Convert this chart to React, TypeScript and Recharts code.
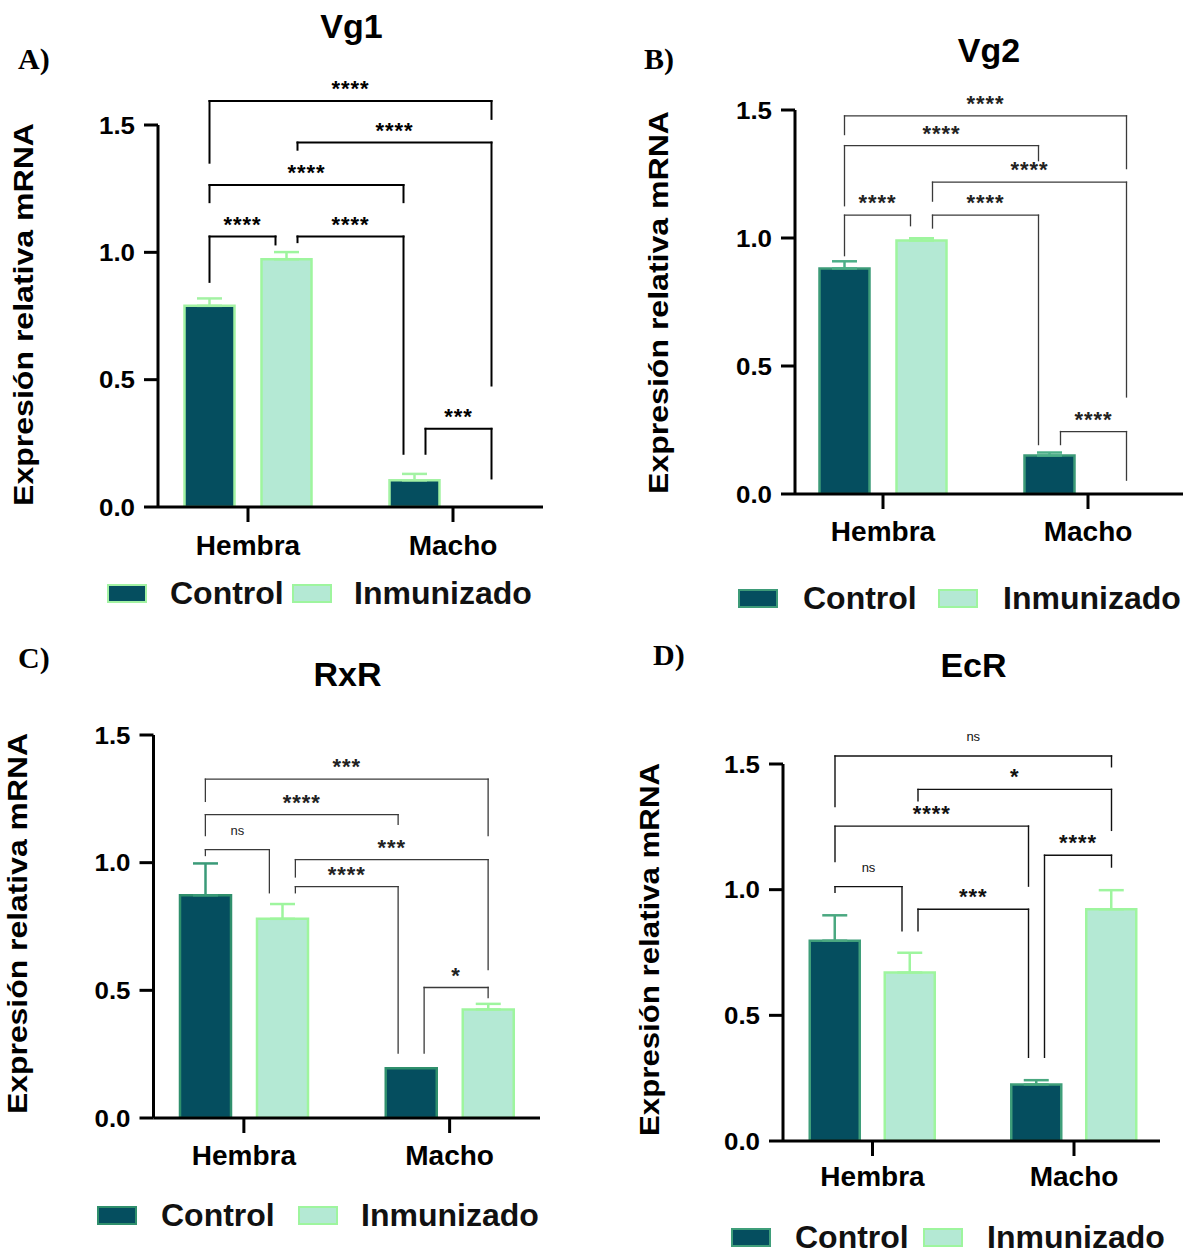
import React from "react";
import {
  BarChart,
  Bar,
  XAxis,
  YAxis,
  ErrorBar,
  ReferenceLine,
  ReferenceDot,
  Legend,
} from "recharts";

const SANS = '"Liberation Sans", Arial, Helvetica, sans-serif';
const SERIF = '"Liberation Serif", "Times New Roman", serif';

const CATEGORIES = ["Hembra", "Macho"];
const SERIES = ["Control", "Inmunizado"];
const Y_TICKS = [0, 0.5, 1.0, 1.5];

// [from bar, to bar, level, leg end at "from", leg end at "to", label]
// bars: 0 Hembra-Control, 1 Hembra-Inmunizado, 2 Macho-Control, 3 Macho-Inmunizado
type Bracket = [number, number, number, number, number, string];

// Vg1
const VG1_CONTROL = [0.79, 0.105];
const VG1_CONTROL_SEM = [0.029, 0.025];
const VG1_INMUNIZADO = [0.973, 0];
const VG1_INMUNIZADO_SEM = [0.028, null];
const VG1_BRACKETS: Bracket[] = [
  [0, 3, 1.594, 1.352, 1.524, "****"],
  [1, 3, 1.431, 1.403, 0.477, "****"],
  [0, 2, 1.264, 1.197, 1.197, "****"],
  [0, 1, 1.062, 0.884, 1.031, "****"],
  [1, 2, 1.062, 1.04, 0.209, "****"],
  [2, 3, 0.307, 0.209, 0.112, "***"],
];

// Vg2
const VG2_CONTROL = [0.881, 0.15];
const VG2_CONTROL_SEM = [0.028, 0.012];
const VG2_INMUNIZADO = [0.99, 0];
const VG2_INMUNIZADO_SEM = [0.009, null];
const VG2_BRACKETS: Bracket[] = [
  [0, 3, 1.477, 1.404, 1.271, "****"],
  [0, 2, 1.361, 1.126, 1.302, "****"],
  [1, 3, 1.218, 1.144, 0.379, "****"],
  [0, 1, 1.089, 0.931, 1.048, "****"],
  [1, 2, 1.089, 1.039, 0.193, "****"],
  [2, 3, 0.244, 0.193, 0.054, "****"],
];

// RxR
const RXR_CONTROL = [0.872, 0.195];
const RXR_CONTROL_SEM = [0.125, null];
const RXR_INMUNIZADO = [0.78, 0.425];
const RXR_INMUNIZADO_SEM = [0.058, 0.022];
const RXR_BRACKETS: Bracket[] = [
  [0, 3, 1.327, 1.24, 1.106, "***"],
  [0, 2, 1.188, 1.106, 1.15, "****"],
  [0, 1, 1.051, 1.028, 0.882, "ns"],
  [1, 3, 1.012, 0.944, 0.581, "***"],
  [1, 2, 0.906, 0.882, 0.254, "****"],
  [2, 3, 0.511, 0.254, 0.472, "*"],
];

// EcR
const ECR_CONTROL = [0.797, 0.225];
const ECR_CONTROL_SEM = [0.101, 0.017];
const ECR_INMUNIZADO = [0.67, 0.922];
const ECR_INMUNIZADO_SEM = [0.079, 0.076];
const ECR_BRACKETS: Bracket[] = [
  [0, 3, 1.532, 1.331, 1.489, "ns"],
  [1, 3, 1.399, 1.354, 1.236, "*"],
  [0, 2, 1.253, 1.112, 1.014, "****"],
  [2, 3, 1.137, 0.333, 1.09, "****"],
  [0, 1, 1.012, 0.99, 0.836, "ns"],
  [1, 2, 0.922, 0.836, 0.333, "***"],
];

const CONTROL_FILL = "#054e5f";
const INM_FILL = "#b4e9d4";
const INM_STROKE = "#9ef59e";
const Y_AXIS_W = 60;
const X_AXIS_H = 30;

const PANELS = [
  {
    title: "Vg1", letter: "A)",
    control: VG1_CONTROL, controlSem: VG1_CONTROL_SEM,
    inm: VG1_INMUNIZADO, inmSem: VG1_INMUNIZADO_SEM, brackets: VG1_BRACKETS,
    box: { left: 0, top: 0, w: 596, h: 626 },
    plot: { left: 158, right: 543, top: 125, bottom: 507 },
    padL: -12.5, padR: -12.5, barSize: 50, barGap: 27, shift: 11, xTickMargin: 13,
    ctrlStroke: "#a3f2a3", ctrlErr: "#a3f2a3",
    bracketStroke: "#000", bracketWidth: 2, labelFill: "#000",
    legendY: 593, legendX: [107, 170, 292, 354],
    titlePos: [351.5, 38], letterPos: [18, 69], yLabel: [33, 314.5, 383],
  },
  {
    title: "Vg2", letter: "B)",
    control: VG2_CONTROL, controlSem: VG2_CONTROL_SEM,
    inm: VG2_INMUNIZADO, inmSem: VG2_INMUNIZADO_SEM, brackets: VG2_BRACKETS,
    box: { left: 596, top: 0, w: 596, h: 626 },
    plot: { left: 795, right: 1183, top: 110, bottom: 494 },
    padL: -14.5, padR: -7.5, barSize: 50, barGap: 27, shift: 11, xTickMargin: 12,
    ctrlStroke: "#3d9b78", ctrlErr: "#4caf88",
    bracketStroke: "#3a3a3a", bracketWidth: 1.3, labelFill: "#222",
    legendY: 598, legendX: [738, 803, 938, 1003],
    titlePos: [989, 61.5], letterPos: [644, 69], yLabel: [668, 302.5, 383],
  },
  {
    title: "RxR", letter: "C)",
    control: RXR_CONTROL, controlSem: RXR_CONTROL_SEM,
    inm: RXR_INMUNIZADO, inmSem: RXR_INMUNIZADO_SEM, brackets: RXR_BRACKETS,
    box: { left: 0, top: 626, w: 596, h: 627 },
    plot: { left: 153.5, right: 540, top: 735, bottom: 1118 },
    padL: -12.5, padR: -12.5, barSize: 51, barGap: 26, shift: 13, xTickMargin: 12,
    ctrlStroke: "#2f8f6c", ctrlErr: "#3a9a78",
    bracketStroke: "#3a3a3a", bracketWidth: 1.3, labelFill: "#222",
    legendY: 1215, legendX: [97, 161, 298, 361],
    titlePos: [347.5, 685.5], letterPos: [18, 668], yLabel: [27, 923.5, 381],
  },
  {
    title: "EcR", letter: "D)",
    control: ECR_CONTROL, controlSem: ECR_CONTROL_SEM,
    inm: ECR_INMUNIZADO, inmSem: ECR_INMUNIZADO_SEM, brackets: ECR_BRACKETS,
    box: { left: 596, top: 626, w: 596, h: 627 },
    plot: { left: 783, right: 1160, top: 764, bottom: 1141 },
    padL: -11.25, padR: -14.75, barSize: 50, barGap: 25, shift: 8, xTickMargin: 10,
    ctrlStroke: "#3f9e7a", ctrlErr: "#4aa880",
    bracketStroke: "#111", bracketWidth: 1.4, labelFill: "#111",
    legendY: 1237, legendX: [731, 795, 923, 987],
    titlePos: [973.5, 677], letterPos: [653, 664.5], yLabel: [659, 949.5, 373],
  },
];

type PanelCfg = (typeof PANELS)[number];

const YTick = (props: any) => {
  const { x, y, payload } = props;
  return (
    <text
      x={x}
      y={y}
      dy="0.36em"
      textAnchor="end"
      fontSize={24}
      fontWeight={700}
      fontFamily={SANS}
      fill="#000"
      textLength={36}
      lengthAdjust="spacingAndGlyphs"
    >
      {Number(payload.value).toFixed(1)}
    </text>
  );
};

function Panel({ cfg }: { cfg: PanelCfg }) {
  const { box, plot } = cfg;
  const data = CATEGORIES.map((name, i) => ({
    name,
    control: cfg.control[i],
    inmunizado: cfg.inm[i],
    controlErr: cfg.controlSem[i] == null ? null : [0, cfg.controlSem[i]],
    inmErr: cfg.inmSem[i] == null ? null : [0, cfg.inmSem[i]],
  }));
  const margin = {
    top: plot.top - box.top,
    left: plot.left - box.left - Y_AXIS_W,
    right: box.left + box.w - plot.right,
    bottom: box.top + box.h - plot.bottom - X_AXIS_H,
  };
  const pad = { left: cfg.padL, right: cfg.padR };
  const nCat = CATEGORIES.length;
  const band = (plot.right - plot.left - cfg.padL - cfg.padR) / nCat;

  // bars that have brackets arriving from both sides get their legs split apart
  const asFrom = new Set(cfg.brackets.map((b) => b[0]));
  const asTo = new Set(cfg.brackets.map((b) => b[1]));
  // position on a hidden 0..1 axis spanning the same range as the category axis
  const barX = (bar: number, dir: number) => {
    const c = Math.floor(bar / 2);
    const side = bar % 2 === 0 ? -1 : 1;
    const split = asFrom.has(bar) && asTo.has(bar) ? dir * cfg.shift : 0;
    const px = (side * (cfg.barSize + cfg.barGap)) / 2 + split;
    return (c + 0.5 + px / band) / nCat;
  };

  const line = { stroke: cfg.bracketStroke, strokeWidth: cfg.bracketWidth, strokeLinecap: "square" as const };

  const bracketEls = cfg.brackets.flatMap(([a, b, level, endA, endB, label], i) => {
    const xa = barX(a, 1);
    const xb = barX(b, -1);
    const stars = label !== "ns";
    return [
      <ReferenceLine key={`h${i}`} xAxisId="n" ifOverflow="visible" {...line}
        segment={[{ x: xa, y: level }, { x: xb, y: level }]} />,
      <ReferenceLine key={`l${i}`} xAxisId="n" ifOverflow="visible" {...line}
        segment={[{ x: xa, y: level }, { x: xa, y: endA }]} />,
      <ReferenceLine key={`r${i}`} xAxisId="n" ifOverflow="visible" {...line}
        segment={[{ x: xb, y: level }, { x: xb, y: endB }]} />,
      <ReferenceDot key={`t${i}`} xAxisId="n" ifOverflow="visible" r={0}
        x={(xa + xb) / 2} y={level}
        shape={(p: any) => (
          <text
            x={p.cx}
            y={p.cy - (stars ? 5 : 15)}
            textAnchor="middle"
            fontFamily={SANS}
            fontSize={stars ? 22 : 13}
            fontWeight={stars ? 700 : 400}
            letterSpacing={stars ? 1 : 0}
            fill={cfg.labelFill}
          >
            {label}
          </text>
        )}
      />,
    ];
  });

  const legendTop = cfg.legendY - box.top - 20;
  const renderLegend = () => (
    <div style={{ position: "relative", width: box.w, height: 40 }}>
      {SERIES.map((s, i) => (
        <React.Fragment key={s}>
          <div
            style={{
              position: "absolute",
              left: cfg.legendX[i * 2] - box.left,
              top: 10.5,
              width: 40,
              height: 19,
              boxSizing: "border-box",
              background: i === 0 ? CONTROL_FILL : INM_FILL,
              border: `2.5px solid ${i === 0 ? cfg.ctrlStroke : INM_STROKE}`,
            }}
          />
          <span
            style={{
              position: "absolute",
              left: cfg.legendX[i * 2 + 1] - box.left,
              top: 0,
              lineHeight: "40px",
              fontSize: 32,
              fontWeight: 700,
              fontFamily: SANS,
              color: "#111",
              whiteSpace: "nowrap",
            }}
          >
            {s}
          </span>
        </React.Fragment>
      ))}
    </div>
  );

  const axisStyle = { stroke: "#000", strokeWidth: 3 };

  return (
    <div style={{ position: "absolute", left: box.left, top: box.top }}>
      <BarChart width={box.w} height={box.h} data={data} margin={margin} barGap={cfg.barGap}>
        <XAxis
          dataKey="name"
          padding={pad}
          height={X_AXIS_H}
          tickSize={15}
          tickMargin={cfg.xTickMargin}
          axisLine={axisStyle}
          tickLine={axisStyle}
          interval={0}
          tick={{ fontSize: 28, fontWeight: 700, fill: "#000", fontFamily: SANS }}
        />
        <XAxis xAxisId="n" type="number" domain={[0, 1]} padding={pad} hide allowDataOverflow />
        <YAxis
          domain={[0, 1.5]}
          ticks={Y_TICKS}
          width={Y_AXIS_W}
          tickSize={14}
          tickMargin={9}
          axisLine={axisStyle}
          tickLine={axisStyle}
          interval={0}
          allowDataOverflow
          tick={<YTick />}
        />
        <Bar
          dataKey="control"
          name={SERIES[0]}
          fill={CONTROL_FILL}
          stroke={cfg.ctrlStroke}
          strokeWidth={2.5}
          barSize={cfg.barSize}
          isAnimationActive={false}
        >
          <ErrorBar dataKey="controlErr" direction="y" width={12.5} strokeWidth={2.5} stroke={cfg.ctrlErr} isAnimationActive={false} />
        </Bar>
        <Bar
          dataKey="inmunizado"
          name={SERIES[1]}
          fill={INM_FILL}
          stroke={INM_STROKE}
          strokeWidth={2.5}
          barSize={cfg.barSize}
          isAnimationActive={false}
        >
          <ErrorBar dataKey="inmErr" direction="y" width={12.5} strokeWidth={2.5} stroke={INM_STROKE} isAnimationActive={false} />
        </Bar>
        {bracketEls}
        <Legend
          layout="vertical"
          align="center"
          verticalAlign="middle"
          wrapperStyle={{ left: 0, top: legendTop, width: box.w, height: 40 }}
          content={renderLegend}
        />
      </BarChart>
    </div>
  );
}

export default function App() {
  return (
    <div style={{ position: "absolute", left: 0, top: 0, width: 1192, height: 1253, background: "#fff" }}>
      {PANELS.map((p) => (
        <Panel key={p.title} cfg={p} />
      ))}
      <svg
        width={1192}
        height={1253}
        style={{ position: "absolute", left: 0, top: 0, pointerEvents: "none" }}
      >
        {PANELS.map((p) => (
          <g key={p.title}>
            <text x={p.titlePos[0]} y={p.titlePos[1]} textAnchor="middle" fontFamily={SANS} fontWeight={700} fontSize={34} fill="#000">
              {p.title}
            </text>
            <text x={p.letterPos[0]} y={p.letterPos[1]} fontFamily={SERIF} fontWeight={700} fontSize={30} fill="#000">
              {p.letter}
            </text>
            <text
              transform={`translate(${p.yLabel[0]},${p.yLabel[1]}) rotate(-90)`}
              textAnchor="middle"
              fontFamily={SANS}
              fontWeight={700}
              fontSize={28}
              fill="#000"
              textLength={p.yLabel[2]}
              lengthAdjust="spacingAndGlyphs"
            >
              Expresión relativa mRNA
            </text>
          </g>
        ))}
      </svg>
    </div>
  );
}
